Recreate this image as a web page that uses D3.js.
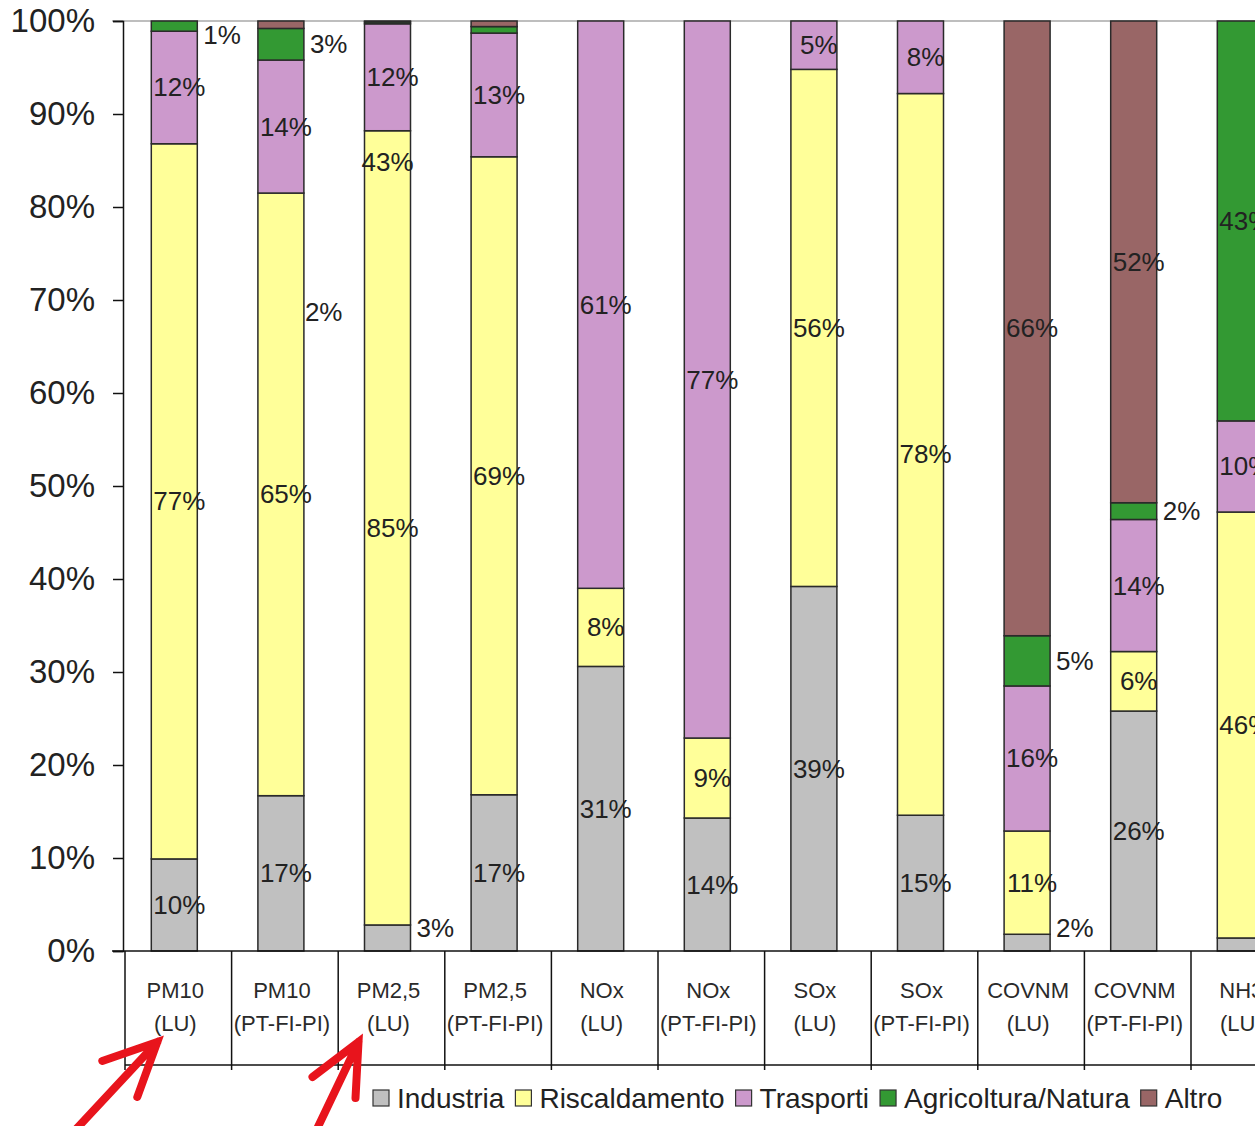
<!DOCTYPE html>
<html>
<head>
<meta charset="utf-8">
<script src="https://cdn.jsdelivr.net/npm/d3@7"></script>
<style>
  html, body { margin: 0; padding: 0; background: #fff; }
  svg { display: block; font-family: "Liberation Sans", Arial, sans-serif; }
</style>
</head>
<body>
<svg id="chart" width="1255" height="1126"></svg>
<script>
// ---------------- DATA ----------------
const categories = [
  "PM10 (LU)", "PM10 (PT-FI-PI)", "PM2,5 (LU)", "PM2,5 (PT-FI-PI)",
  "NOx (LU)", "NOx (PT-FI-PI)", "SOx (LU)", "SOx (PT-FI-PI)",
  "COVNM (LU)", "COVNM (PT-FI-PI)", "NH3 (LU)"
];
const seriesNames = ["Industria", "Riscaldamento", "Trasporti", "Agricoltura/Natura", "Altro"];
const industria     = [9.9, 16.7, 2.8, 16.8, 30.6, 14.3, 39.2, 14.6, 1.8, 25.8, 1.4];
const riscaldamento = [76.9, 64.8, 85.4, 68.6, 8.4, 8.6, 55.6, 77.6, 11.1, 6.4, 45.8];
const trasporti     = [12.1, 14.3, 11.5, 13.3, 61.0, 77.1, 5.2, 7.8, 15.6, 14.2, 9.8];
const agricoltura   = [1.1, 3.4, 0.2, 0.7, 0, 0, 0, 0, 5.4, 1.8, 43.0];
const altro         = [0, 0.8, 0.1, 0.6, 0, 0, 0, 0, 66.1, 51.8, 0];
const yTicks = [0, 10, 20, 30, 40, 50, 60, 70, 80, 90, 100];
// labels drawn beside the bar instead of inside it
const outsideLabels = [
  "PM10 (LU)|Agricoltura/Natura", "PM10 (PT-FI-PI)|Agricoltura/Natura",
  "PM2,5 (LU)|Industria", "COVNM (LU)|Industria", "COVNM (LU)|Agricoltura/Natura",
  "COVNM (PT-FI-PI)|Agricoltura/Natura", "NH3 (LU)|Industria"
];
// stray labels present in the original picture
const strayLabels = [
  { cat: "PM10 (PT-FI-PI)", value: 68.7, text: "2%", side: "right" },
  { cat: "PM2,5 (LU)", value: 84.8, text: "43%", side: "inside" }
];
const arrowTargets = ["PM10 (LU)", "PM2,5 (LU)"];

// ---------------- STYLE ----------------
const colors = ["#c0c0c0", "#ffff99", "#cc99cc", "#339933", "#996666"];
const W = 1255, H = 1126;
const plotLeft = 125, plotTop = 21, plotBottom = 951;
const bandW = 106.6;
const barW = 46;

const svg = d3.select("#chart");
svg.append("rect").attr("width", W).attr("height", H).attr("fill", "#fff");

const x = d3.scaleBand().domain(categories)
  .range([plotLeft, plotLeft + bandW * categories.length]).paddingInner(0).paddingOuter(0);
const y = d3.scaleLinear().domain([0, 100]).range([plotBottom, plotTop]);

const table = categories.map((c, i) => ({
  cat: c,
  "Industria": industria[i],
  "Riscaldamento": riscaldamento[i],
  "Trasporti": trasporti[i],
  "Agricoltura/Natura": agricoltura[i],
  "Altro": altro[i]
}));
const stacked = d3.stack().keys(seriesNames)(table);

// top border line
svg.append("line").attr("x1", 112).attr("x2", W).attr("y1", y(100)).attr("y2", y(100))
  .attr("stroke", "#a8a8a8").attr("stroke-width", 1.5);

const barX = c => x(c) + (x.bandwidth() - barW) / 2 - 4;

// bars
stacked.forEach((s, si) => {
  svg.append("g").selectAll("rect").data(s.filter(d => d[1] - d[0] > 0)).join("rect")
    .attr("x", d => barX(d.data.cat))
    .attr("width", barW)
    .attr("y", d => y(d[1]))
    .attr("height", d => y(d[0]) - y(d[1]))
    .attr("fill", colors[si])
    .attr("stroke", "#2a2a2a")
    .attr("stroke-width", 1.5);
});

// y axis
const yAxis = d3.axisLeft(y).tickValues(yTicks).tickFormat(d => d + "%").tickSize(10).tickPadding(18);
const yg = svg.append("g").attr("transform", `translate(${plotLeft - 2},0)`).call(yAxis);
yg.select(".domain").attr("stroke", "#111").attr("stroke-width", 1.5);
yg.selectAll(".tick line").attr("stroke", "#111").attr("stroke-width", 1.5);
yg.selectAll(".tick text").attr("font-size", 33).attr("fill", "#222")
  .attr("font-family", "'Liberation Sans', Arial, sans-serif");

// x axis line and category table
svg.append("line").attr("x1", 112).attr("x2", W).attr("y1", plotBottom).attr("y2", plotBottom)
  .attr("stroke", "#111").attr("stroke-width", 1.5);
const tableBottom = 1065;
svg.append("line").attr("x1", plotLeft).attr("x2", W).attr("y1", tableBottom).attr("y2", tableBottom)
  .attr("stroke", "#111").attr("stroke-width", 1.5);
const bounds = categories.map(c => x(c)).concat([x.range()[1]]);
svg.append("g").selectAll("line").data(bounds).join("line")
  .attr("x1", d => d).attr("x2", d => d)
  .attr("y1", plotBottom).attr("y2", tableBottom + 5)
  .attr("stroke", "#111").attr("stroke-width", 1.5);

const catG = svg.append("g");
categories.forEach(c => {
  const parts = c.split(" ");
  const cx = x(c) + x.bandwidth() / 2 - 3;
  parts.forEach((p, k) => {
    catG.append("text").attr("x", cx).attr("y", 990 + k * 33)
      .attr("text-anchor", "middle").attr("dominant-baseline", "central")
      .attr("font-size", 22).attr("fill", "#2a2a2a").text(p);
  });
});

// data labels
const labG = svg.append("g").attr("font-size", 26).attr("fill", "#222");
const clampY = v => Math.max(35, Math.min(928, v));
stacked.forEach((s, si) => {
  s.forEach(d => {
    const v = d[1] - d[0];
    if (v < 1) return;
    const key = d.data.cat + "|" + seriesNames[si];
    const midY = clampY(y((d[0] + d[1]) / 2));
    const bx = barX(d.data.cat);
    if (outsideLabels.includes(key)) {
      labG.append("text").attr("x", bx + barW + 6).attr("y", midY)
        .attr("dominant-baseline", "central").text(Math.round(v) + "%");
    } else {
      labG.append("text").attr("x", bx + barW / 2 + 5).attr("y", midY)
        .attr("text-anchor", "middle").attr("dominant-baseline", "central")
        .text(Math.round(v) + "%");
    }
  });
});
strayLabels.forEach(l => {
  const bx = barX(l.cat);
  const t = labG.append("text").attr("y", y(l.value)).attr("dominant-baseline", "central").text(l.text);
  if (l.side === "right") t.attr("x", bx + barW + 1);
  else t.attr("x", bx + barW / 2).attr("text-anchor", "middle");
});

// legend
const legG = svg.append("g");
let lx = 373;
const ly = 1098;
seriesNames.forEach((n, i) => {
  legG.append("rect").attr("x", lx).attr("y", ly - 8).attr("width", 16).attr("height", 16)
    .attr("fill", colors[i]).attr("stroke", "#333").attr("stroke-width", 1.2);
  const t = legG.append("text").attr("x", lx + 24).attr("y", ly)
    .attr("dominant-baseline", "central").attr("font-size", 28).attr("fill", "#222").text(n);
  lx += 24 + t.node().getComputedTextLength() + 11;
});

// red annotation arrows
const arrowG = svg.append("g").attr("stroke", "#e8141c").attr("stroke-width", 8)
  .attr("stroke-linecap", "round").attr("fill", "none");
const arrowShapes = [
  { dx: -17, shaft: [-82, 88], wingL: [-55, 19], wingD: [-20, 55] },
  { dx: -29, shaft: [-42, 88], wingL: [-46, 35], wingD: [-3, 56] }
];
arrowTargets.forEach((c, i) => {
  const a = arrowShapes[i];
  const tipX = barX(c) + barW / 2 + a.dx;
  const tipY = 1042;
  arrowG.append("path").attr("d",
    `M${tipX + a.shaft[0]},${tipY + a.shaft[1]} L${tipX},${tipY} ` +
    `M${tipX + a.wingL[0]},${tipY + a.wingL[1]} L${tipX},${tipY} L${tipX + a.wingD[0]},${tipY + a.wingD[1]}`);
});
</script>
</body>
</html>
